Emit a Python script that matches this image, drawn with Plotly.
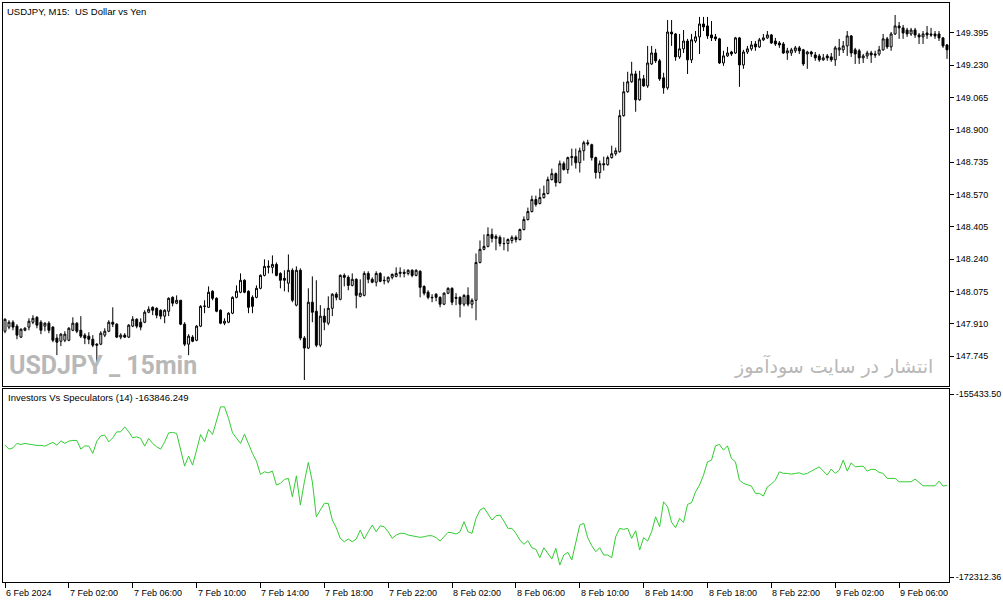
import plotly.graph_objects as go
from plotly.subplots import make_subplots

# USDJPY M15 candles, 6 Feb 22:00 -> 9 Feb 09:00
open_ = [
    147.873, 147.894, 147.919, 147.899, 147.843, 147.878, 147.894, 147.919, 147.944, 147.919,
    147.899, 147.914, 147.894, 147.838, 147.822, 147.827, 147.827, 147.878, 147.914, 147.878,
    147.853, 147.848, 147.832, 147.807, 147.807, 147.853, 147.873, 147.919, 147.909, 147.843,
    147.853, 147.843, 147.899, 147.934, 147.919, 147.919, 147.970, 147.995, 147.990, 147.980,
    147.950, 147.975, 148.046, 148.016, 148.031, 147.909, 147.807, 147.843, 147.827, 147.899,
    148.000, 147.995, 148.077, 148.041, 147.980, 147.914, 147.919, 147.965, 148.046, 148.072,
    148.133, 148.077, 148.046, 148.046, 148.092, 148.158, 148.199, 148.199, 148.214, 148.168,
    148.143, 148.118, 148.184, 148.006, 148.184, 147.838, 147.787, 148.021, 147.975, 147.802,
    147.950, 147.914, 147.990, 148.062, 148.036, 148.158, 148.148, 148.107, 148.138, 148.051,
    148.056, 148.168, 148.138, 148.123, 148.168, 148.133, 148.128, 148.148, 148.153, 148.168,
    148.174, 148.168, 148.184, 148.158, 148.179, 148.102, 148.072, 148.046, 148.062, 148.046,
    148.011, 148.067, 148.092, 148.046, 148.046, 148.011, 148.056, 148.011, 148.031, 148.224,
    148.291, 148.306, 148.367, 148.347, 148.352, 148.321, 148.321, 148.336, 148.352, 148.341,
    148.392, 148.443, 148.484, 148.545, 148.525, 148.555, 148.576, 148.647, 148.677, 148.632,
    148.728, 148.698, 148.759, 148.764, 148.733, 148.794, 148.835, 148.825, 148.759, 148.683,
    148.728, 148.723, 148.759, 148.779, 148.789, 148.973, 149.095, 149.146, 149.186, 149.054,
    149.161, 149.125, 149.237, 149.293, 149.253, 149.166, 149.115, 149.400, 149.390, 149.273,
    149.314, 149.354, 149.258, 149.354, 149.375, 149.441, 149.431, 149.385, 149.375, 149.365,
    149.242, 149.278, 149.298, 149.293, 149.370, 149.232, 149.298, 149.314, 149.339, 149.324,
    149.360, 149.370, 149.385, 149.354, 149.344, 149.339, 149.293, 149.293, 149.304, 149.319,
    149.309, 149.288, 149.298, 149.283, 149.278, 149.258, 149.278, 149.273, 149.258, 149.309,
    149.309, 149.329, 149.380, 149.309, 149.304, 149.268, 149.278, 149.293, 149.288, 149.288,
    149.309, 149.365, 149.324, 149.390, 149.431, 149.421, 149.410, 149.390, 149.410, 149.385,
    149.375, 149.395, 149.390, 149.390, 149.390, 149.370, 149.334,
]
high = [
    147.939, 147.929, 147.929, 147.909, 147.888, 147.894, 147.939, 147.955, 147.950, 147.929,
    147.919, 147.924, 147.899, 147.858, 147.863, 147.873, 147.894, 147.944, 147.919, 147.950,
    147.863, 147.868, 147.853, 147.812, 147.873, 147.888, 147.929, 147.995, 147.914, 147.863,
    147.863, 147.909, 147.950, 147.939, 147.939, 147.980, 148.000, 148.000, 147.995, 147.985,
    147.985, 148.046, 148.051, 148.056, 148.031, 147.919, 147.858, 147.853, 147.904, 148.006,
    148.031, 148.102, 148.082, 148.046, 147.985, 147.939, 147.970, 148.051, 148.107, 148.168,
    148.138, 148.082, 148.056, 148.107, 148.163, 148.240, 148.235, 148.260, 148.224, 148.174,
    148.184, 148.265, 148.194, 148.204, 148.194, 147.848, 148.092, 148.153, 148.133, 148.006,
    147.990, 148.051, 148.067, 148.072, 148.163, 148.168, 148.158, 148.168, 148.143, 148.138,
    148.179, 148.179, 148.148, 148.179, 148.174, 148.153, 148.153, 148.168, 148.199, 148.199,
    148.189, 148.189, 148.189, 148.189, 148.184, 148.107, 148.082, 148.062, 148.067, 148.051,
    148.072, 148.097, 148.097, 148.067, 148.051, 148.062, 148.097, 148.041, 148.270, 148.336,
    148.367, 148.403, 148.397, 148.367, 148.362, 148.352, 148.347, 148.362, 148.362, 148.397,
    148.459, 148.504, 148.565, 148.565, 148.601, 148.616, 148.662, 148.703, 148.683, 148.744,
    148.739, 148.764, 148.805, 148.805, 148.810, 148.845, 148.850, 148.830, 148.764, 148.744,
    148.764, 148.769, 148.820, 148.810, 149.003, 149.146, 149.197, 149.248, 149.202, 149.202,
    149.181, 149.329, 149.329, 149.314, 149.263, 149.192, 149.461, 149.461, 149.395, 149.390,
    149.410, 149.365, 149.390, 149.405, 149.477, 149.477, 149.477, 149.456, 149.390, 149.370,
    149.304, 149.324, 149.304, 149.375, 149.375, 149.309, 149.329, 149.354, 149.354, 149.370,
    149.390, 149.405, 149.390, 149.370, 149.354, 149.349, 149.319, 149.319, 149.329, 149.329,
    149.314, 149.304, 149.304, 149.298, 149.288, 149.288, 149.288, 149.293, 149.329, 149.365,
    149.354, 149.405, 149.385, 149.319, 149.314, 149.288, 149.304, 149.304, 149.304, 149.329,
    149.390, 149.375, 149.400, 149.487, 149.451, 149.436, 149.421, 149.421, 149.421, 149.395,
    149.405, 149.431, 149.421, 149.405, 149.405, 149.375, 149.339,
]
low = [
    147.863, 147.883, 147.878, 147.832, 147.838, 147.873, 147.878, 147.909, 147.888, 147.858,
    147.873, 147.863, 147.817, 147.751, 147.797, 147.817, 147.822, 147.873, 147.863, 147.838,
    147.807, 147.807, 147.792, 147.715, 147.802, 147.843, 147.868, 147.894, 147.838, 147.832,
    147.838, 147.838, 147.894, 147.888, 147.878, 147.914, 147.965, 147.955, 147.939, 147.934,
    147.914, 147.950, 148.000, 148.011, 147.904, 147.797, 147.751, 147.817, 147.822, 147.894,
    147.965, 147.993, 148.031, 147.970, 147.909, 147.904, 147.914, 147.960, 148.041, 148.067,
    148.067, 147.965, 147.965, 148.041, 148.087, 148.153, 148.168, 148.168, 148.153, 148.092,
    148.077, 148.072, 148.021, 148.000, 147.827, 147.624, 147.782, 147.919, 147.792, 147.792,
    147.878, 147.904, 147.950, 148.031, 148.031, 148.102, 148.082, 148.102, 147.990, 148.046,
    148.051, 148.118, 148.118, 148.102, 148.123, 148.112, 148.118, 148.138, 148.148, 148.148,
    148.148, 148.158, 148.148, 148.153, 148.046, 148.056, 148.036, 148.021, 148.026, 147.995,
    148.006, 148.062, 148.006, 148.006, 147.944, 148.000, 148.000, 147.990, 147.929, 148.219,
    148.286, 148.301, 148.326, 148.286, 148.306, 148.286, 148.280, 148.321, 148.326, 148.336,
    148.387, 148.438, 148.479, 148.509, 148.520, 148.550, 148.571, 148.642, 148.611, 148.627,
    148.693, 148.677, 148.718, 148.703, 148.683, 148.744, 148.820, 148.744, 148.652, 148.652,
    148.693, 148.718, 148.754, 148.769, 148.784, 148.968, 149.090, 149.141, 148.993, 149.049,
    149.120, 149.115, 149.232, 149.242, 149.151, 149.085, 149.105, 149.329, 149.253, 149.263,
    149.293, 149.186, 149.242, 149.344, 149.288, 149.405, 149.365, 149.354, 149.354, 149.237,
    149.227, 149.273, 149.278, 149.288, 149.120, 149.212, 149.288, 149.304, 149.304, 149.319,
    149.354, 149.365, 149.339, 149.329, 149.319, 149.288, 149.258, 149.278, 149.293, 149.288,
    149.227, 149.212, 149.273, 149.253, 149.248, 149.253, 149.253, 149.248, 149.227, 149.278,
    149.293, 149.278, 149.273, 149.237, 149.237, 149.242, 149.263, 149.242, 149.268, 149.278,
    149.304, 149.314, 149.304, 149.385, 149.365, 149.365, 149.375, 149.380, 149.370, 149.339,
    149.339, 149.365, 149.375, 149.365, 149.354, 149.319, 149.263,
]
close = [
    147.934, 147.919, 147.894, 147.853, 147.883, 147.888, 147.924, 147.939, 147.904, 147.878,
    147.914, 147.878, 147.827, 147.817, 147.858, 147.858, 147.888, 147.914, 147.873, 147.848,
    147.838, 147.832, 147.802, 147.802, 147.863, 147.873, 147.919, 147.909, 147.843, 147.853,
    147.843, 147.904, 147.934, 147.899, 147.894, 147.970, 147.985, 147.980, 147.955, 147.950,
    147.980, 148.041, 148.016, 148.031, 147.909, 147.807, 147.848, 147.822, 147.899, 148.000,
    148.001, 148.072, 148.041, 147.975, 147.914, 147.924, 147.965, 148.046, 148.077, 148.133,
    148.072, 147.995, 148.000, 148.092, 148.158, 148.204, 148.204, 148.214, 148.158, 148.133,
    148.133, 148.184, 148.031, 148.184, 147.838, 147.787, 148.021, 147.970, 147.802, 147.950,
    147.919, 147.990, 148.062, 148.046, 148.158, 148.148, 148.107, 148.138, 148.056, 148.067,
    148.168, 148.138, 148.123, 148.168, 148.128, 148.131, 148.148, 148.163, 148.168, 148.174,
    148.168, 148.184, 148.158, 148.184, 148.097, 148.067, 148.046, 148.044, 148.046, 148.011,
    148.067, 148.092, 148.021, 148.041, 148.011, 148.056, 148.011, 148.031, 148.224, 148.291,
    148.306, 148.367, 148.347, 148.357, 148.321, 148.320, 148.341, 148.352, 148.341, 148.392,
    148.443, 148.484, 148.545, 148.520, 148.555, 148.576, 148.647, 148.677, 148.632, 148.728,
    148.698, 148.759, 148.764, 148.733, 148.794, 148.835, 148.830, 148.759, 148.683, 148.728,
    148.723, 148.759, 148.779, 148.794, 148.973, 149.095, 149.146, 149.186, 149.054, 149.161,
    149.125, 149.242, 149.293, 149.253, 149.161, 149.115, 149.400, 149.390, 149.273, 149.314,
    149.354, 149.258, 149.360, 149.375, 149.441, 149.426, 149.380, 149.370, 149.365, 149.242,
    149.278, 149.293, 149.288, 149.370, 149.232, 149.298, 149.314, 149.334, 149.324, 149.360,
    149.370, 149.385, 149.344, 149.339, 149.334, 149.293, 149.304, 149.309, 149.319, 149.304,
    149.237, 149.298, 149.288, 149.268, 149.258, 149.268, 149.268, 149.258, 149.319, 149.319,
    149.329, 149.380, 149.293, 149.288, 149.268, 149.278, 149.293, 149.283, 149.283, 149.309,
    149.365, 149.324, 149.390, 149.431, 149.421, 149.395, 149.390, 149.410, 149.385, 149.375,
    149.390, 149.385, 149.385, 149.380, 149.370, 149.329, 149.309,
]

# Investors Vs Speculators (14), one value per bar
ivs = [
    -160137, -160506, -160386, -159980, -160073, -159980, -160045, -160137, -160165, -160165,
    -160229, -160045, -159888, -160137, -159741, -159980, -159768, -159704, -159704, -160506,
    -160202, -160229, -160902, -159768, -159279, -159215, -159833, -159464, -158911, -158911,
    -158449, -158911, -159464, -159372, -159519, -160229, -159519, -159980, -160294, -160506,
    -159833, -159003, -158966, -159058, -160441, -162074, -161152, -161982, -160598, -159150,
    -159833, -158689, -159150, -157988, -156605, -156605, -157675, -159003, -159519, -159980,
    -159123, -160073, -160902, -161613, -162840, -162600, -162692, -162535, -163826, -163670,
    -163301, -163209, -164905, -162969, -165671, -163522, -161733, -163522, -166750, -166132,
    -165514, -165514, -167054, -167765, -168742, -169056, -168807, -169056, -168807, -167977,
    -168807, -168134, -167516, -168134, -167580, -167672, -168134, -168742, -168438, -168281,
    -168281, -168438, -168503, -168622, -168650, -168595, -168503, -168503, -168687, -168991,
    -168595, -168189, -168226, -168346, -168134, -167211, -168134, -168281, -166898, -166132,
    -165920, -166437, -167054, -166658, -166593, -167147, -167820, -167820, -168281, -168899,
    -169296, -168964, -169609, -169757, -170531, -169609, -170126, -170651, -169665, -171205,
    -170282, -170033, -170744, -169056, -167516, -167359, -168687, -169425, -169978, -169609,
    -170282, -170282, -170531, -168595, -167820, -167912, -167820, -168742, -168041, -169821,
    -168687, -168991, -168134, -166750, -167672, -165366, -165828, -167267, -167765, -166898,
    -167267, -165606, -165459, -164444, -163826, -162904, -161677, -161521, -160202, -160073,
    -160598, -160202, -161364, -161677, -163365, -163670, -163762, -163918, -164592, -164592,
    -164841, -163983, -163734, -163365, -162600, -162747, -162747, -162812, -162747, -162692,
    -162840, -162747, -162535, -162351, -162139, -162535, -162904, -162351, -162747, -162443,
    -161521, -162535, -161770, -162139, -162139, -162074, -162535, -162378, -162378, -162655,
    -162747, -163209, -163209, -163209, -163522, -163522, -163522, -163522, -163273, -163577,
    -163891, -163891, -163918, -163891, -163457, -163918, -163846.249,
]

time_labels = ["6 Feb 2024", "7 Feb 02:00", "7 Feb 06:00", "7 Feb 10:00", "7 Feb 14:00",
               "7 Feb 18:00", "7 Feb 22:00", "8 Feb 02:00", "8 Feb 06:00", "8 Feb 10:00",
               "8 Feb 14:00", "8 Feb 18:00", "8 Feb 22:00", "9 Feb 02:00", "9 Feb 06:00"]
label_bars = [0, 16, 32, 48, 64, 80, 96, 112, 128, 144, 160, 176, 192, 208, 224]

price_ticks = [147.745, 147.910, 148.075, 148.240, 148.405, 148.570,
               148.735, 148.900, 149.065, 149.230, 149.395]
ivs_ticks = [-172312.36, -155433.50]

bars = list(range(len(close)))
FONT = "Liberation Sans, Arial, sans-serif"

fig = make_subplots(rows=2, cols=1, shared_xaxes=True, vertical_spacing=0.005)

fig.add_trace(go.Candlestick(
    x=bars, open=open_, high=high, low=low, close=close,
    increasing=dict(line=dict(color="black", width=1), fillcolor="white"),
    decreasing=dict(line=dict(color="black", width=1), fillcolor="black"),
    whiskerwidth=0, hoverinfo="skip", showlegend=False), row=1, col=1)

fig.add_trace(go.Scatter(
    x=bars, y=ivs, mode="lines",
    line=dict(color="#32cd32", width=1),
    hoverinfo="skip", showlegend=False), row=2, col=1)

axis_common = dict(showgrid=False, zeroline=False, showline=True, mirror=True,
                   linecolor="black", linewidth=1)

fig.update_xaxes(axis_common, range=[-0.5, 236.5], rangeslider_visible=False)
fig.update_xaxes(showticklabels=False, ticks="", row=1, col=1)
fig.update_xaxes(tickvals=label_bars, ticks="outside", ticklen=5, tickcolor="black",
                 showticklabels=False, row=2, col=1)

fig.update_yaxes(axis_common, side="right", ticks="outside", ticklen=4, tickcolor="black",
                 tickfont=dict(family=FONT, size=9, color="black"))
fig.update_yaxes(range=[147.592, 149.548], tickvals=price_ticks,
                 ticktext=["%.3f" % t for t in price_ticks], domain=[0.338, 1.0], row=1, col=1)
fig.update_yaxes(range=[-172772.7, -154972.4], tickvals=ivs_ticks,
                 ticktext=["%.2f" % t for t in ivs_ticks], domain=[0.0, 0.333], row=2, col=1)

annotations = []
for pos, lab in zip(label_bars, time_labels):
    annotations.append(dict(x=pos, y=0, xref="x2", yref="paper", text=lab, showarrow=False,
                            xanchor="left", yanchor="top", yshift=-4, xshift=-1,
                            font=dict(family=FONT, size=9, color="black")))

annotations += [
    dict(x=0, y=1, xref="paper", yref="y domain", text="USDJPY, M15:\u00a0 US Dollar vs Yen",
         showarrow=False, xanchor="left", yanchor="top", xshift=2, yshift=-1,
         font=dict(family=FONT, size=9.5, color="black")),
    dict(x=0, y=1, xref="paper", yref="y2 domain",
         text="Investors Vs Speculators (14) -163846.249",
         showarrow=False, xanchor="left", yanchor="top", xshift=3, yshift=-1,
         font=dict(family=FONT, size=9.5, color="black")),
    dict(x=0, y=0, xref="paper", yref="y domain", text="<b>USDJPY _ 15min</b>",
         showarrow=False, xanchor="left", yanchor="bottom", xshift=4, yshift=4,
         font=dict(family="Liberation Sans Narrow, Roboto, sans-serif", size=25, color="#b8b8b8")),
    dict(x=1, y=0, xref="paper", yref="y domain", text="انتشار در سایت سودآموز",
         showarrow=False, xanchor="right", yanchor="bottom", xshift=-14, yshift=6,
         font=dict(family="DejaVu Sans, sans-serif", size=19, color="#b8b8b8")),
]

fig.update_layout(
    width=1003, height=603,
    margin=dict(l=2, r=53, t=2, b=21),
    paper_bgcolor="white", plot_bgcolor="white",
    showlegend=False,
    annotations=annotations,
    hovermode=False,
)

# the page body has a default 8px margin; drop it so the figure sits at the window corner
fig.write_html("out.html", config={"displayModeBar": False},
               post_script="document.body.style.margin='0px';")
